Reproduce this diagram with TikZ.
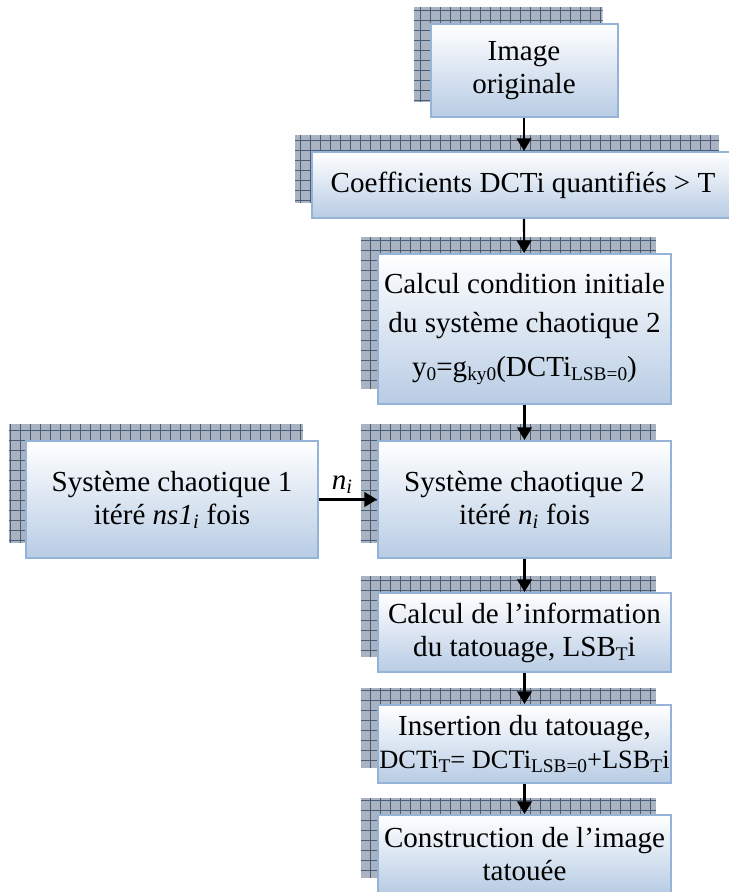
\documentclass[tikz,border=0pt]{standalone}
\usepackage{fontspec}
\setmainfont{Liberation Serif}
\usetikzlibrary{arrows.meta,backgrounds}

\definecolor{boxline}{HTML}{95B3D7}
\definecolor{boxbottom}{HTML}{B8CCE4}
\definecolor{shadowbg}{HTML}{A9B3C1}
\definecolor{shadowline}{HTML}{4A5D76}

% indice romain, plus petit
\newcommand{\ind}[1]{\raisebox{-0.3ex}{\fontsize{14.5pt}{14.5pt}\selectfont #1}}

\begin{document}
\begin{tikzpicture}[
    x=0.75pt,y=0.75pt,
    font=\fontsize{21.8pt}{24.8pt}\selectfont,
    boxsize/.style 2 args={minimum width=#1*0.75pt,minimum height=#2*0.75pt},
    stepbox/.style={draw=boxline,line width=1.5pt,top color=white,bottom color=boxbottom,
                    inner sep=0pt,align=center},
    flow/.style={line width=1.6pt,-{Triangle[width=11pt,length=9.5pt]}},
    shadowgrid/.style={draw=shadowline,line width=0.6pt}
]
\useasboundingbox (0,0) rectangle (728,-892);

% -------------------------------------------------
% Colonne de droite
% -------------------------------------------------
\node[stepbox,boxsize={187}{93}] (orig) at (524,-70.5) {Image\\originale};
\node[stepbox,boxsize={422}{66}] (coef) at (523,-185) {Coefficients DCTi quantifiés > T};
\node[stepbox,boxsize={293}{150}] (cond) at (524.5,-329)
    {\raisebox{-4pt}{Calcul condition initiale}\\[8pt]du système chaotique 2\\[8pt]y\ind{0}=g\ind{ky0}(DCTi\ind{LSB=0})};
\node[stepbox,boxsize={293}{117}] (sys2) at (524.5,-499.5) {Système chaotique 2\\itéré \textit{n}\textsubscript{\textit{i}} fois};
\node[stepbox,boxsize={293}{79}] (info) at (524.5,-632.5) {Calcul de l’information\\du tatouage, LSB\ind{T}i};
\node[stepbox,boxsize={293}{78}] (ins) at (524.5,-744)
    {Insertion du tatouage,\\{\fontsize{19.8pt}{24.8pt}\selectfont DCTi\ind{T}= DCTi\ind{LSB=0}+LSB\ind{T}i}};
\node[stepbox,boxsize={293}{78}] (cons) at (524.5,-854) {Construction de l’image\\tatouée};

% -------------------------------------------------
% Colonne de gauche
% -------------------------------------------------
\node[stepbox,boxsize={292}{117}] (sys1) at (172,-499.5) {Système chaotique 1\\itéré \textit{ns1}\textsubscript{\textit{i}} fois};

% -------------------------------------------------
% Ombres quadrillées
% -------------------------------------------------
\begin{scope}[on background layer]
\foreach \n in {orig,coef,cond,sys2,info,ins,cons,sys1}{
  \begin{scope}
    \clip ([shift={(-16,16)}]\n.south west) rectangle ([shift={(-16,16)}]\n.north east);
    \fill[shadowbg] ([shift={(-16,16)}]\n.south west) rectangle ([shift={(-16,16)}]\n.north east);
    \draw[shadowgrid,step=7.5pt] ([shift={(-16,16)}]\n.south west) grid ([shift={(-16,16)}]\n.north east);
  \end{scope}
}
\end{scope}

% -------------------------------------------------
% Flèches
% -------------------------------------------------
\draw[flow] (orig) -- (orig |- coef.north);
\draw[flow] (orig |- coef.south) -- (cond);
\draw[flow] (cond) -- (sys2);
\draw[flow] (sys2) -- (info);
\draw[flow] (info) -- (ins);
\draw[flow] (ins) -- (cons);
\draw[flow] (sys1.east) -- node[above,pos=0.4] {\textit{n}\textsubscript{\textit{i}}} (sys2.west);

\end{tikzpicture}
\end{document}
